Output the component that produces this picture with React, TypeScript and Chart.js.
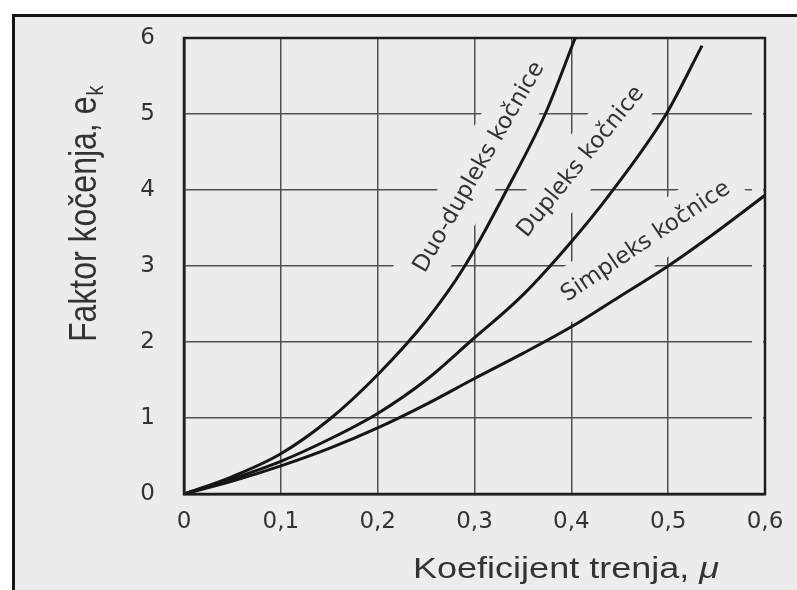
import React, { useEffect, useRef } from 'react';
import { Chart, registerables } from 'chart.js';

Chart.register(...registerables);

// ---- data ----
const X_TICKS = [0, 0.1, 0.2, 0.3, 0.4, 0.5, 0.6];
const X_TICK_LABELS = ['0', '0,1', '0,2', '0,3', '0,4', '0,5', '0,6'];
const Y_TICKS = [0, 1, 2, 3, 4, 5, 6];
const Y_TICK_LABELS = ['0', '1', '2', '3', '4', '5', '6'];

const SERIES_NAMES = ['Duo-dupleks kočnice', 'Dupleks kočnice', 'Simpleks kočnice'];

const MU_DUO = [0, 0.05, 0.1, 0.15, 0.2, 0.25, 0.29, 0.332, 0.373, 0.404];
const E_DUO = [0, 0.23, 0.53, 0.98, 1.57, 2.28, 3.0, 3.97, 5.0, 6.0];

const MU_DUP = [0, 0.05, 0.1, 0.15, 0.2, 0.25, 0.295, 0.35, 0.4, 0.44, 0.498, 0.535];
const E_DUP = [0, 0.2, 0.43, 0.72, 1.06, 1.5, 2.0, 2.62, 3.32, 3.95, 5.0, 5.9];

const MU_SIM = [0, 0.05, 0.1, 0.15, 0.2, 0.25, 0.3, 0.35, 0.4, 0.45, 0.5, 0.55, 0.6];
const E_SIM = [0, 0.17, 0.37, 0.6, 0.87, 1.18, 1.52, 1.85, 2.2, 2.6, 3.0, 3.45, 3.93];

// curve label anchors (data coords) and angles (degrees)
const LABEL_MU = [0.305, 0.41, 0.477];
const LABEL_E = [4.3, 4.37, 3.32];
const LABEL_ANGLE = [60, 51, 34];

const X_TITLE = 'Koeficijent trenja, ';
const X_TITLE_SYMBOL = 'μ';
const Y_TITLE = 'Faktor kočenja, e';
const Y_TITLE_SUB = 'k';

// ---- styles ----
const BG = '#ececee';
const INK = '#161616';
const TEXT = '#333333';
const GRID = '#505050';
const TICK_FONT = { family: '"DejaVu Sans"', size: 23 };
const LABEL_FONT = '23px "DejaVu Sans"';

const decorPlugin = {
  id: 'decor',
  beforeDraw(chart: any) {
    const { ctx, width, height } = chart;
    ctx.save();
    ctx.fillStyle = '#ffffff';
    ctx.fillRect(0, 0, width, height);
    ctx.fillStyle = BG;
    ctx.fillRect(13, 15, width - 13, height - 15);
    ctx.strokeStyle = '#141414';
    ctx.lineWidth = 3;
    ctx.beginPath();
    ctx.moveTo(13.5, 14);
    ctx.lineTo(13.5, height);
    ctx.moveTo(12, 15.5);
    ctx.lineTo(width, 15.5);
    ctx.stroke();
    ctx.restore();
  },
  beforeDatasetsDraw(chart: any) {
    const { ctx, chartArea: a, scales } = chart;
    const xs = scales.x;
    const ys = scales.y;
    ctx.save();
    ctx.fillStyle = BG;
    // horizontal grid lines stop short of the right border
    ctx.fillRect(a.right - 13, a.top + 2, 11, a.bottom - a.top - 4);
    // blank boxes behind curve labels
    ctx.font = LABEL_FONT;
    SERIES_NAMES.forEach((t, i) => {
      const px = xs.getPixelForValue(LABEL_MU[i]);
      const py = ys.getPixelForValue(LABEL_E[i]);
      const w = ctx.measureText(t).width + 24;
      ctx.save();
      ctx.translate(px, py);
      ctx.rotate((-LABEL_ANGLE[i] * Math.PI) / 180);
      ctx.fillRect(-w / 2, -25, w, 50);
      ctx.restore();
    });
    // plot frame
    ctx.strokeStyle = '#1e1e1e';
    ctx.lineWidth = 2.5;
    ctx.strokeRect(a.left, a.top, a.right - a.left, a.bottom - a.top);
    ctx.restore();
  },
  afterDatasetsDraw(chart: any) {
    const { ctx, scales } = chart;
    const xs = scales.x;
    const ys = scales.y;
    ctx.save();
    ctx.font = LABEL_FONT;
    ctx.fillStyle = TEXT;
    ctx.textAlign = 'center';
    ctx.textBaseline = 'middle';
    SERIES_NAMES.forEach((t, i) => {
      const px = xs.getPixelForValue(LABEL_MU[i]);
      const py = ys.getPixelForValue(LABEL_E[i]);
      ctx.save();
      ctx.translate(px, py);
      ctx.rotate((-LABEL_ANGLE[i] * Math.PI) / 180);
      ctx.fillText(t, 0, 0);
      ctx.restore();
    });
    ctx.restore();
  },
  afterDraw(chart: any) {
    const { ctx } = chart;
    ctx.save();
    ctx.fillStyle = TEXT;
    ctx.textBaseline = 'alphabetic';
    ctx.textAlign = 'left';
    // x title
    ctx.save();
    ctx.translate(566, 578);
    ctx.scale(1.2, 1);
    ctx.font = '30px "Liberation Sans"';
    const w1 = ctx.measureText(X_TITLE).width;
    ctx.font = 'italic 30px "Liberation Sans"';
    const w2 = ctx.measureText(X_TITLE_SYMBOL).width;
    const start = -(w1 + w2) / 2;
    ctx.font = '30px "Liberation Sans"';
    ctx.fillText(X_TITLE, start, 0);
    ctx.font = 'italic 30px "Liberation Sans"';
    ctx.fillText(X_TITLE_SYMBOL, start + w1, 0);
    ctx.restore();
    // y title
    ctx.save();
    ctx.translate(96, 342);
    ctx.scale(1.2, 1);
    ctx.rotate(-Math.PI / 2);
    ctx.font = '32px "Liberation Sans"';
    const wy = ctx.measureText(Y_TITLE).width;
    ctx.fillText(Y_TITLE, 0, 0);
    ctx.font = '20px "Liberation Sans"';
    ctx.fillText(Y_TITLE_SUB, wy + 1, 6);
    ctx.restore();
    ctx.restore();
  },
};

function makeDataset(mu: number[], e: number[], label: string) {
  return {
    label,
    data: mu.map((m, i) => ({ x: m, y: e[i] })),
    borderColor: INK,
    borderWidth: 3,
    pointRadius: 0,
    fill: false,
    cubicInterpolationMode: 'monotone' as const,
  };
}

export default function App() {
  const ref = useRef<HTMLCanvasElement>(null);
  useEffect(() => {
    const canvas = ref.current;
    if (!canvas) return;
    const chart = new Chart(canvas, {
      type: 'line',
      data: {
        datasets: [
          makeDataset(MU_DUO, E_DUO, SERIES_NAMES[0]),
          makeDataset(MU_DUP, E_DUP, SERIES_NAMES[1]),
          makeDataset(MU_SIM, E_SIM, SERIES_NAMES[2]),
        ],
      },
      options: {
        responsive: false,
        animation: false,
        devicePixelRatio: 1,
        layout: { padding: { left: 0, right: 32, top: 38, bottom: 0 } },
        plugins: { legend: { display: false }, tooltip: { enabled: false } },
        scales: {
          x: {
            type: 'linear',
            min: 0,
            max: 0.6,
            afterBuildTicks: (s: any) => {
              s.ticks = X_TICKS.map((v) => ({ value: v }));
            },
            afterFit: (s: any) => {
              s.height = 96;
              s.paddingLeft = 0;
              s.paddingRight = 0;
            },
            ticks: {
              callback: (_v: any, i: number) => X_TICK_LABELS[i],
              padding: 14,
              font: TICK_FONT,
              color: TEXT,
              maxRotation: 0,
              autoSkip: false,
            },
            grid: { color: GRID, lineWidth: 1.5, drawTicks: false },
            border: { display: true, color: '#1e1e1e', width: 2.5 },
          },
          y: {
            type: 'linear',
            min: 0,
            max: 6,
            afterBuildTicks: (s: any) => {
              s.ticks = Y_TICKS.map((v) => ({ value: v }));
            },
            afterFit: (s: any) => {
              s.width = 184;
              s.paddingTop = 0;
              s.paddingBottom = 0;
            },
            ticks: {
              callback: (_v: any, i: number) => Y_TICK_LABELS[i],
              padding: 29,
              font: TICK_FONT,
              color: TEXT,
              autoSkip: false,
            },
            grid: { color: GRID, lineWidth: 1.5, drawTicks: false },
            border: { display: true, color: '#1e1e1e', width: 2.5 },
          },
        },
      },
      plugins: [decorPlugin],
    });
    return () => chart.destroy();
  }, []);
  return (
    <div style={{ position: 'absolute', left: 0, top: 0, width: 797, height: 590 }}>
      <canvas ref={ref} width={797} height={590} style={{ display: 'block' }} />
    </div>
  );
}
